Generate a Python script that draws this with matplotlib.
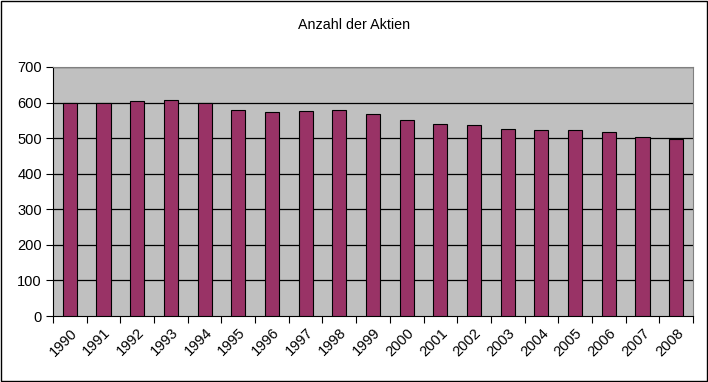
import matplotlib
matplotlib.use("Agg")
import matplotlib.pyplot as plt
import numpy as np
from matplotlib.patches import Rectangle

years = [str(y) for y in range(1990, 2009)]
values = [598, 600, 604, 607, 598, 579, 573, 576, 579, 567,
          550, 539, 536, 527, 524, 524, 518, 502, 497]
yticks = [0, 100, 200, 300, 400, 500, 600, 700]

plt.rcParams['font.family'] = ['Liberation Sans', 'DejaVu Sans']

fig = plt.figure(figsize=(7.08, 3.82), dpi=100)
ax = fig.add_axes([53/708, 1-316/382, 640/708, 249/382])
ax.set_facecolor('#C0C0C0')

x = np.arange(len(years))
ax.bar(x, values, width=0.42, color='#993366', edgecolor='black', linewidth=0.8, zorder=3)

ax.set_xlim(-0.5, len(years) - 0.5)
ax.set_ylim(0, 700)
ax.set_yticks(yticks)
ax.set_yticklabels([str(v) for v in yticks], fontsize=10.5)
for v in yticks[1:]:
    ax.axhline(v, color='black', linewidth=0.9, zorder=1)

ax.set_xticks(np.arange(-0.5, len(years) + 0.5, 1), minor=False)
ax.set_xticklabels([])
ax.set_xticks(x, minor=True)
ax.set_xticklabels(years, minor=True, rotation=45, ha='right', va='top',
                   fontsize=10.5, rotation_mode='anchor')
ax.tick_params(axis='x', which='minor', length=0, pad=7)
ax.tick_params(axis='x', which='major', length=5, direction='out', color='black')
ax.tick_params(axis='y', length=5, direction='out', color='black', pad=3)

for side in ['top', 'right']:
    ax.spines[side].set_color('#808080')
ax.spines['left'].set_color('black')
ax.spines['bottom'].set_color('black')

fig.text(354/708, 1-25/382, 'Anzahl der Aktien', ha='center', va='center', fontsize=10.3)
fig.patches.append(Rectangle((0.5/708, 1.5/382), 706/708, 379.5/382, transform=fig.transFigure,
                             fill=False, edgecolor='black', linewidth=1))

fig.savefig('out.png', dpi=100)
